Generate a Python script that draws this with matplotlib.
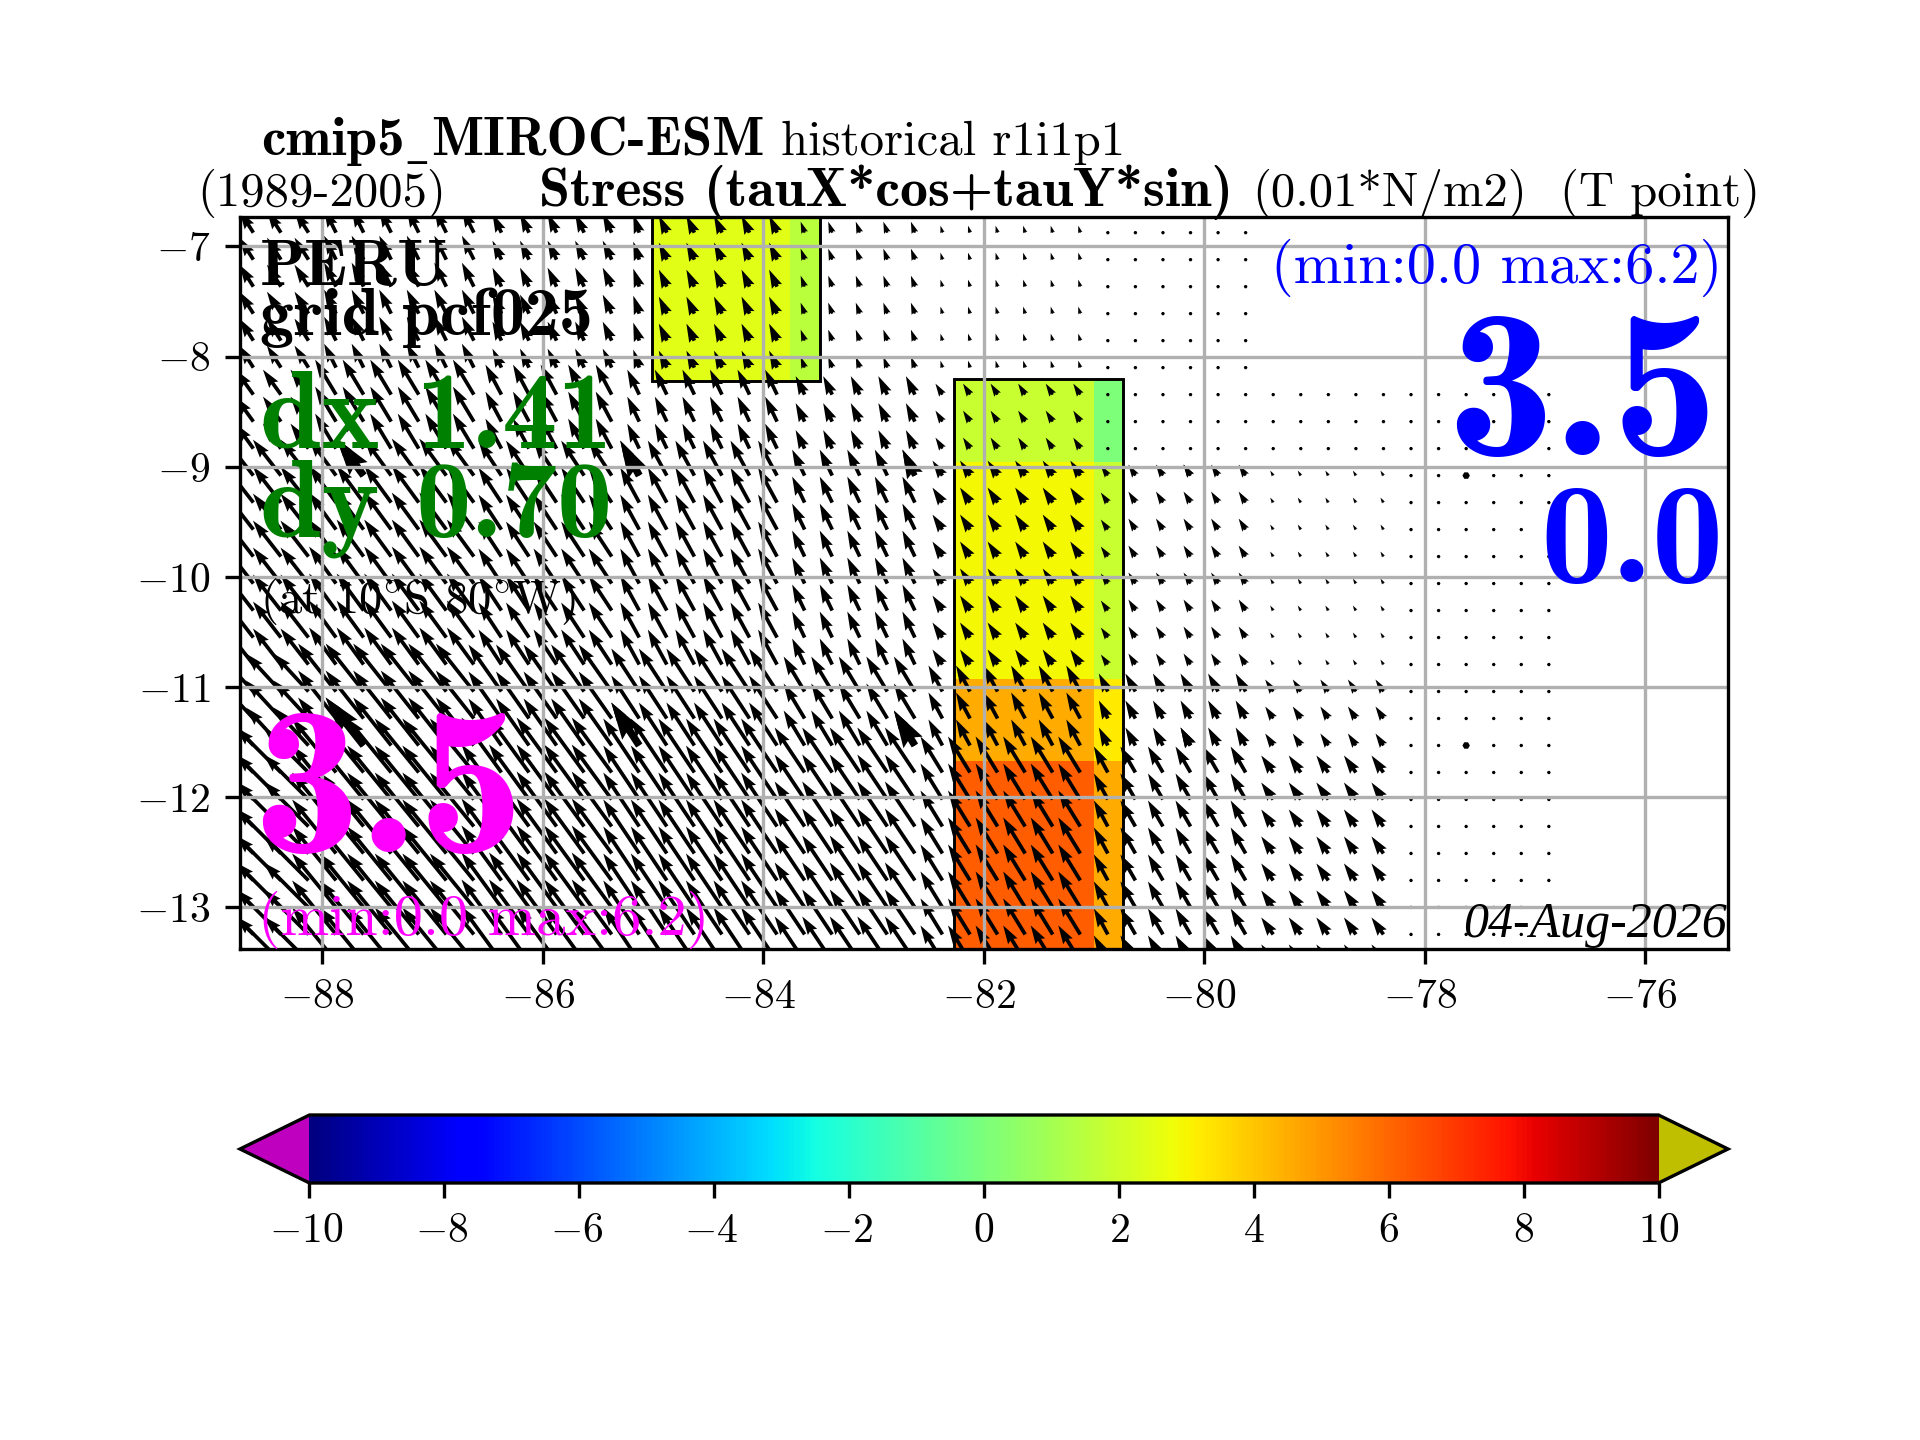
import matplotlib
matplotlib.use('Agg')
import matplotlib.pyplot as plt
from matplotlib.patches import Rectangle
from matplotlib.transforms import ScaledTranslation
import numpy as np

plt.rcParams['font.family'] = ['cmr10', 'DejaVu Serif']
plt.rcParams['mathtext.fontset'] = 'cm'
plt.rcParams['axes.formatter.use_mathtext'] = True
plt.rcParams['axes.unicode_minus'] = True

# vector field is blocky (coarse model grid on 0.25 deg lattice)
lon_edges = [-88.75, -88.0, -86.5, -85.25, -85.0, -83.75, -82.5, -81.0, -80.75, -79.5, -78.25, -76.75]
row_counts = [6, 3, 8, 3, 8]

# tauX, tauY (0.01 N/m2), one line per row group
nan = float('nan')
tau_x = [
    [-1.4, -1.2, -0.9, -0.6, -0.8, -0.4, -0.2, 0.0, 0.0, nan, nan],
    [-1.8, -2.1, -1.6, -1.2, -1.2, -0.9, -0.7, 0.0, 0.0, 0.0, 0.0],
    [-2.8, -2.7, -2.3, -1.9, -1.9, -1.25, -1.0, -0.7, -0.7, -0.3, 0.0],
    [-3.5, -3.8, -3.3, -2.8, -2.8, -2.1, -1.4, -0.9, -1.0, -0.8, 0.0],
    [-4.5, -4.4, -4.0, -3.6, -3.6, -3.0, -2.2, -1.4, -1.5, -1.2, 0.0],
]
tau_y = [
    [2.2, 2.4, 1.9, 1.8, 1.7, 1.1, 0.7, 0.0, 0.0, nan, nan],
    [2.5, 3.5, 3.0, 2.5, 2.5, 1.85, 1.1, 0.0, 0.0, 0.0, 0.0],
    [3.6, 3.7, 3.5, 3.5, 3.5, 2.6, 1.5, 1.0, 1.1, 0.5, 0.0],
    [3.8, 4.8, 4.7, 4.3, 4.3, 3.5, 2.6, 1.8, 1.8, 1.2, 0.0],
    [4.5, 5.4, 5.5, 5.4, 5.4, 4.5, 3.6, 2.6, 2.6, 1.7, 0.0],
]

# shaded stress boxes
box1_lon = [-85.01, -83.76, -83.49]
box1_lat = [-8.225, -6.7]
box1_val = [[2.44, 1.56]]
box2_lon = [-82.27, -81.0, -80.74]
box2_lat = [-13.4, -11.67, -10.93, -8.96, -8.2]
box2_val = [[6.2, 4.6], [4.6, 3.24], [2.9, 1.86], [1.86, 0.0]]

xticks = [-88, -86, -84, -82, -80, -78, -76]
yticks = [-13, -12, -11, -10, -9, -8, -7]
cbar_ticks = [-10, -8, -6, -4, -2, 0, 2, 4, 6, 8, 10]


def figx(x):
    return x / 1920


def figy(y):
    return 1 - y / 1440


fig = plt.figure(figsize=(6.4, 4.8), dpi=300)
ax = fig.add_axes([figx(239.6), figy(949.3), figx(1728 - 239.6), (949.3 - 216.7) / 1440])

cmap = plt.get_cmap('jet').copy()
cmap.set_under('m')
cmap.set_over('y')

mesh = ax.pcolormesh(box1_lon, box1_lat, box1_val, cmap=cmap, vmin=-10, vmax=10)
ax.pcolormesh(box2_lon, box2_lat, box2_val, cmap=cmap, vmin=-10, vmax=10)
for lons, lats in [(box1_lon, box1_lat), (box2_lon, box2_lat)]:
    ax.add_patch(Rectangle((lons[0], lats[0]), lons[-1] - lons[0], lats[-1] - lats[0],
                           fill=False, edgecolor='k', linewidth=0.7, zorder=1))

# lattice the arrows sit on
lon_pts = np.arange(-88.625, -76.8, 0.25)
lat_pts = -6.875 - 0.245 * np.arange(sum(row_counts))
col_idx = np.searchsorted(lon_edges, lon_pts) - 1
row_idx = np.repeat(np.arange(len(row_counts)), row_counts)
U = np.array(tau_x)[row_idx][:, col_idx]
V = np.array(tau_y)[row_idx][:, col_idx]
X, Y = np.meshgrid(lon_pts, lat_pts)

ax.quiver(X, Y, U, V, angles='xy', scale_units='xy', scale=11.025, width=0.0025)
# every 10th arrow comes out heavier
ax.quiver(X[9::10, 4::10], Y[9::10, 4::10], U[9::10, 4::10], V[9::10, 4::10],
          angles='xy', scale_units='xy', scale=11.025, width=0.005)

ax.set_xlim(-88.75, -75.25)
ax.set_ylim(-13.38, -6.73)
ax.set_xticks(xticks)
ax.set_yticks(yticks)
ax.grid(True)

# titles
fig.text(figx(261), figy(155), 'cmip5', family='cmb10', fontsize=13.2)
fig.text(figx(407), figy(155), '_', family='DejaVu Sans', fontsize=9)
fig.text(figx(431), figy(155), 'MIROC-ESM', family='cmb10', fontsize=13.2)
fig.text(figx(781), figy(155), 'historical r1i1p1', fontsize=11.7)
fig.text(figx(197), figy(206), '(1989-2005)', fontsize=11.7)
fig.text(figx(539), figy(206), 'Stress (tauX*cos+tauY*sin)', family='cmb10', fontsize=13.4)
fig.text(figx(1252), figy(206), '(0.01*N/m2)', fontsize=11.7)
fig.text(figx(1560), figy(206), '(T point)', fontsize=11.7)

# labels inside the map
fig.text(figx(260), figy(285), 'PERU', family='cmb10', fontsize=15.8)
fig.text(figx(260), figy(335), 'grid pcf025', family='cmb10', fontsize=16.3)
fig.text(figx(260), figy(447), 'dx 1.41', family='cmb10', color='g', fontsize=26.5)
fig.text(figx(260), figy(537), 'dy 0.70', family='cmb10', color='g', fontsize=26.5)
fig.text(figx(260), figy(613), r'(at 10$^{\circ}$S 80$^{\circ}$W)', fontsize=11.2)
fig.text(figx(253), figy(852), '3.5', family='cmb10', color='magenta', fontsize=51)
fig.text(figx(258), figy(935), '(min:0.0 max:6.2)', color='magenta', fontsize=14)
fig.text(figx(1722), figy(283), '(min:0.0 max:6.2)', color='b', fontsize=14, ha='right')
fig.text(figx(1718), figy(455), '3.5', family='cmb10', color='b', fontsize=51, ha='right')
fig.text(figx(1724), figy(582), '0.0', family='cmb10', color='b', fontsize=34.5, ha='right')
fig.text(figx(1727), figy(937), '04-Aug-2026', family='Liberation Serif', style='italic',
         fontsize=12, ha='right')

# cax runs tip to tip, colorbar shrinks the body to fit the extensions
cax = fig.add_axes([figx(240), figy(1183), figx(1728 - 240), 68 / 1440])
cbar = fig.colorbar(mesh, cax=cax, orientation='horizontal', extend='both', extendfrac=0.0515)
cbar.set_ticks(cbar_ticks)

# minus sign pulls negative labels a little left of the tick
fig.canvas.draw()
for label in ax.get_xticklabels():
    label.set_transform(label.get_transform() + ScaledTranslation(-1.2 / 72, 0, fig.dpi_scale_trans))
for label, tick in zip(cax.get_xticklabels(), cbar_ticks):
    if tick < 0:
        label.set_transform(label.get_transform() + ScaledTranslation(-0.7 / 72, 0, fig.dpi_scale_trans))

fig.savefig('out.png', dpi=300)
